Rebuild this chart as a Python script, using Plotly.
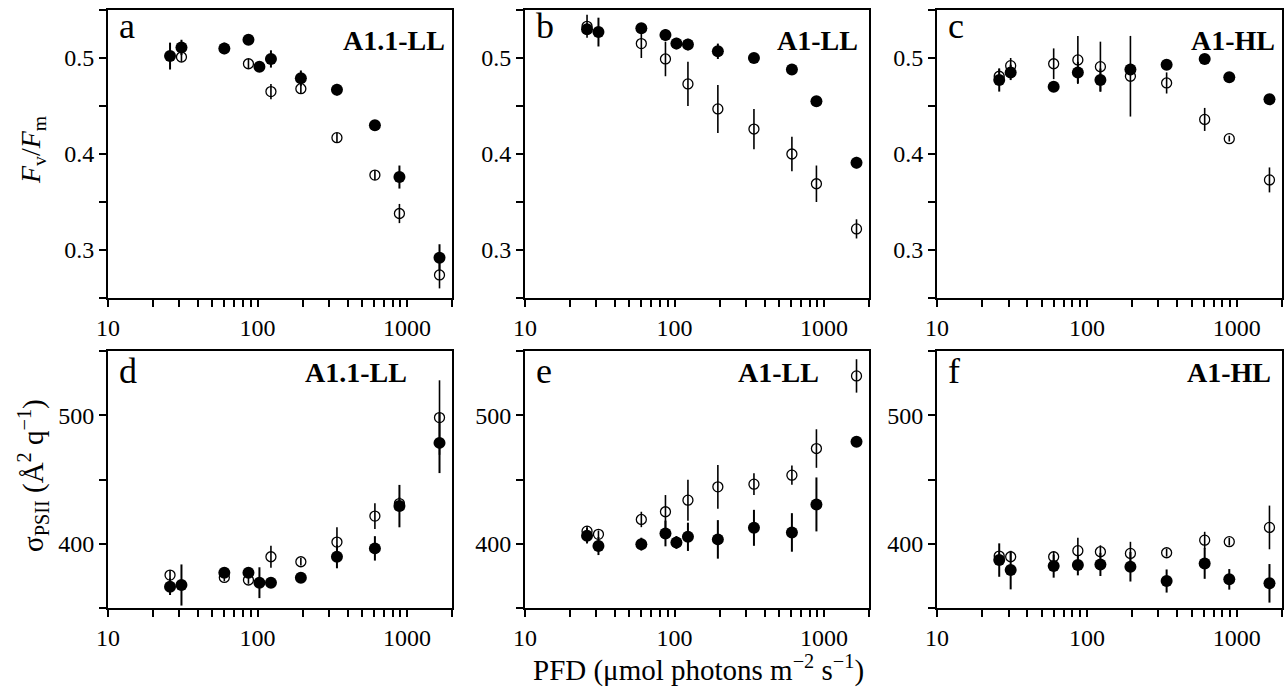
import plotly.graph_objects as go
import math

# ---------------- data ----------------
pfd = [26, 31, 60, 87, 103, 123, 195, 340, 610, 890, 1650]

a_fill = [0.502, 0.511, 0.510, 0.519, 0.491, 0.499, 0.479, 0.467, 0.430, 0.376, 0.292]
a_fill_err = [0.014, 0.008, 0.006, 0.004, 0.004, 0.009, 0.008, 0.006, 0.005, 0.012, 0.014]
a_open = [None, 0.501, None, 0.494, None, 0.465, 0.468, 0.417, 0.378, 0.338, 0.274]
a_open_err = [0, 0.005, 0, 0.005, 0, 0.008, 0.005, 0.005, 0.005, 0.010, 0.014]

b_fill = [0.530, 0.527, 0.531, 0.524, 0.515, 0.514, 0.507, 0.500, 0.488, 0.455, 0.391]
b_fill_err = [0.006, 0.015, 0.004, 0.006, 0.006, 0.006, 0.008, 0.005, 0.004, 0.005, 0.006]
b_open = [0.533, None, 0.515, 0.499, None, 0.473, 0.447, 0.426, 0.400, 0.369, 0.322]
b_open_err = [0.012, 0, 0.015, 0.018, 0, 0.023, 0.025, 0.021, 0.018, 0.019, 0.010]

c_fill = [0.477, 0.485, 0.470, 0.485, None, 0.477, 0.488, 0.493, 0.499, 0.480, 0.457]
c_fill_err = [0.012, 0.008, 0.004, 0.011, 0, 0.012, 0.006, 0.005, 0.004, 0.004, 0.004]
c_open = [0.481, 0.492, 0.494, 0.498, None, 0.491, 0.481, 0.474, 0.436, 0.416, 0.373]
c_open_err = [0.008, 0.008, 0.016, 0.025, 0, 0.026, 0.042, 0.011, 0.012, 0.003, 0.013]

d_fill = [366.6, 367.9, 377.5, 377.5, 369.7, 369.7, 373.6, 389.9, 396.4, 429.3, 478.5]
d_fill_err = [6.5, 16, 4, 4, 12, 4, 4, 9, 9.5, 16.5, 23.5]
d_open = [375.6, None, 373.8, 371.8, None, 389.9, 386.0, 401.3, 421.5, 431.3, 498.2]
d_open_err = [4, 0, 3, 3, 0, 8.5, 3, 11.5, 10, 5, 29]

e_fill = [406.2, 398.2, 399.7, 408.0, 401.0, 405.4, 403.4, 412.4, 408.8, 430.6, 479.3]
e_fill_err = [6, 7, 5, 10, 5, 11, 15, 14, 15, 21, 3]
e_open = [409.8, 407.3, 418.9, 424.9, None, 433.9, 444.3, 446.4, 453.4, 474.1, 530.6]
e_open_err = [4, 3, 6, 13, 0, 16, 17, 8.5, 7.5, 15, 13]

f_fill = [387.3, 379.5, 382.6, 383.4, None, 383.9, 382.1, 371.0, 384.7, 372.3, 369.2]
f_fill_err = [13, 15, 9, 8, 0, 9, 11.5, 9, 12, 8, 15]
f_open = [390.4, 389.9, 389.9, 394.6, None, 393.8, 392.5, 393.0, 402.8, 401.6, 412.7]
f_open_err = [3, 3, 4, 10, 0, 5, 9, 3, 6.5, 3, 17]

panel_letters = ["a", "b", "c", "d", "e", "f"]
panel_names = ["A1.1-LL", "A1-LL", "A1-HL", "A1.1-LL", "A1-LL", "A1-HL"]

x_tickvals = [10, 100, 1000]
x_ticktext = ["10", "100", "1000"]
x_minorvals = [20, 30, 40, 50, 60, 70, 80, 90, 200, 300, 400, 500, 600, 700, 800, 900, 2000]
top_tickvals = [0.3, 0.4, 0.5]
top_ticktext = ["0.3", "0.4", "0.5"]
top_minorvals = [0.25, 0.35, 0.45, 0.55]
bot_tickvals = [400, 500]
bot_ticktext = ["400", "500"]
bot_minorvals = [350, 450, 550]

x_title = "PFD (μmol photons m<sup>−2</sup> s<sup>−1</sup>)"
y_title_top = "<i>F</i><sub>v</sub>/<i>F</i><sub>m</sub>"
y_title_bot = "σ<sub>PSII</sub> (Å<sup>2</sup> q<sup>−1</sup>)"

# ---------------- figure ----------------
W, H = 1285, 688
FONT = "Liberation Serif, Times New Roman, serif"
TICKFONT = dict(family=FONT, size=24, color="black")

panels = [
    (a_fill, a_fill_err, a_open, a_open_err),
    (b_fill, b_fill_err, b_open, b_open_err),
    (c_fill, c_fill_err, c_open, c_open_err),
    (d_fill, d_fill_err, d_open, d_open_err),
    (e_fill, e_fill_err, e_open, e_open_err),
    (f_fill, f_fill_err, f_open, f_open_err),
]

col_px = [(108, 452), (525, 869), (937, 1282)]
row_px = [(10, 298), (351, 608)]
letter_y = [1.02, 1.008]
name_y = [0.955, 0.985]

fig = go.Figure()
layout = dict(
    width=W, height=H,
    margin=dict(l=0, r=0, t=0, b=0, autoexpand=False),
    paper_bgcolor="white", plot_bgcolor="white",
    showlegend=False,
    font=dict(family=FONT, size=22, color="black"),
)
annotations = []

for i, (fy, fe, oy, oe) in enumerate(panels):
    r, c = divmod(i, 3)
    n = i + 1
    xa = "x" if n == 1 else f"x{n}"
    ya = "y" if n == 1 else f"y{n}"
    x0, x1 = col_px[c]
    y0, y1 = row_px[r]
    layout["xaxis" if n == 1 else f"xaxis{n}"] = dict(
        domain=[x0 / W, x1 / W], anchor=ya, type="log",
        range=[1, math.log10(2000)], automargin=False,
        tickmode="array", tickvals=x_tickvals, ticktext=x_ticktext,
        ticks="outside", ticklen=7, tickwidth=2, tickcolor="black",
        minor=dict(tickmode="array", tickvals=x_minorvals, ticks="outside",
                   ticklen=7, tickwidth=2, tickcolor="black", showgrid=False),
        showline=True, linecolor="black", linewidth=2, mirror=True,
        showgrid=False, zeroline=False, tickfont=TICKFONT,
    )
    if r == 0:
        tv, tt, mv, yr = top_tickvals, top_ticktext, top_minorvals, [0.25, 0.55]
    else:
        tv, tt, mv, yr = bot_tickvals, bot_ticktext, bot_minorvals, [350, 550]
    layout["yaxis" if n == 1 else f"yaxis{n}"] = dict(
        domain=[1 - y1 / H, 1 - y0 / H], anchor=xa, range=yr, automargin=False,
        tickmode="array", tickvals=tv, ticktext=tt,
        ticks="outside", ticklen=7, tickwidth=2, tickcolor="black",
        minor=dict(tickmode="array", tickvals=mv, ticks="outside",
                   ticklen=7, tickwidth=2, tickcolor="black", showgrid=False),
        showline=True, linecolor="black", linewidth=2, mirror=True,
        showgrid=False, zeroline=False, tickfont=TICKFONT,
    )
    # open symbols
    fig.add_trace(go.Scatter(
        x=pfd, y=oy, mode="markers", xaxis=xa, yaxis=ya,
        marker=dict(symbol="circle-open", size=10, color="black", line=dict(width=1.3, color="black")),
        error_y=dict(type="data", array=oe, visible=True, width=0, thickness=1.6, color="black"),
    ))
    # filled symbols
    fig.add_trace(go.Scatter(
        x=pfd, y=fy, mode="markers", xaxis=xa, yaxis=ya,
        marker=dict(symbol="circle", size=12, color="black", line=dict(width=0)),
        error_y=dict(type="data", array=fe, visible=True, width=0, thickness=2, color="black"),
    ))
    annotations.append(dict(
        text=panel_letters[i], xref=f"{xa} domain", yref=f"{ya} domain",
        x=0.025, y=letter_y[r], xanchor="left", yanchor="top", showarrow=False,
        font=dict(family=FONT, size=36, color="black"),
    ))
    name_x = {0: 0.985, 1: 0.975, 2: 0.985, 3: 0.875, 4: 0.86, 5: 0.975}[i]
    annotations.append(dict(
        text="<b>" + panel_names[i] + "</b>", xref=f"{xa} domain", yref=f"{ya} domain",
        x=name_x, y=name_y[r], xanchor="right", yanchor="top", showarrow=False,
        font=dict(family=FONT, size=28, color="black"),
    ))

annotations.append(dict(
    text=y_title_top, xref="paper", yref="paper", x=33 / W, y=1 - 150 / H,
    xanchor="center", yanchor="middle", textangle=-90, showarrow=False,
    font=dict(family=FONT, size=28, color="black"),
))
annotations.append(dict(
    text=y_title_bot, xref="paper", yref="paper", x=33 / W, y=1 - 476 / H,
    xanchor="center", yanchor="middle", textangle=-90, showarrow=False,
    font=dict(family=FONT, size=29, color="black"),
))
annotations.append(dict(
    text=x_title, xref="paper", yref="paper", x=698 / W, y=1 - 668 / H,
    xanchor="center", yanchor="middle", showarrow=False,
    font=dict(family=FONT, size=29, color="black"),
))
layout["annotations"] = annotations
fig.update_layout(**layout)
fig.write_html(
    "out.html",
    config=dict(displayModeBar=False),
    post_script="document.body.style.margin='0';document.body.style.padding='0';document.documentElement.style.overflow='hidden';",
)
